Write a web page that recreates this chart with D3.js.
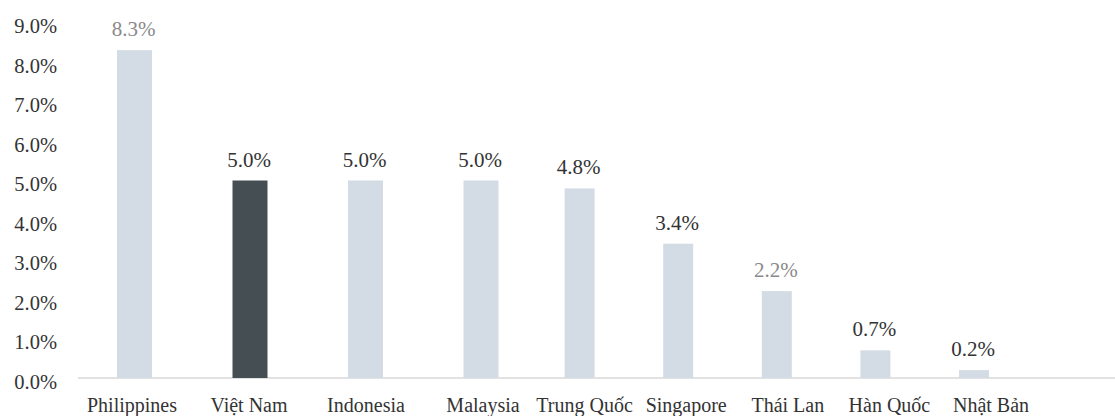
<!DOCTYPE html>
<html>
<head>
<meta charset="utf-8">
<script src="https://cdn.jsdelivr.net/npm/d3@7"></script>
<style>
  html, body { margin: 0; padding: 0; background: #ffffff; }
  svg { display: block; }
</style>
</head>
<body>
<svg id="chart" width="1115" height="416"></svg>
<script>
// ---- data ----
const categories = ["Philippines", "Việt Nam", "Indonesia", "Malaysia", "Trung Quốc", "Singapore", "Thái Lan", "Hàn Quốc", "Nhật Bản"];
const values = [8.3, 5.0, 5.0, 5.0, 4.8, 3.4, 2.2, 0.7, 0.2];
const yTicks = [0, 1, 2, 3, 4, 5, 6, 7, 8, 9];
const highlighted = ["Việt Nam"];
const mutedLabels = ["Philippines", "Thái Lan"];

// ---- layout ----
const W = 1115, H = 416;
const FONT = "Liberation Serif";
const svg = d3.select("#chart");

const y = d3.scaleLinear().domain([0, 9]).range([378, 22.5]);
// bar positions in the source are not evenly spaced: piecewise linear index scale
const idx = categories.map((d, i) => i);
const xBar = d3.scaleLinear().domain([0, 3, 8]).range([134.5, 481, 974]);
const xLab = d3.scaleLinear().domain([0, 3, 8]).range([132, 483, 991]);
const bw = d3.scaleLinear().domain([0, 3, 4, 8]).range([35, 35, 30, 30]);
const fmt = v => d3.format(".1f")(v) + "%";

// y axis (labels only)
const yAxis = d3.axisLeft(y).tickValues(yTicks).tickFormat(fmt).tickSize(0).tickPadding(0);
const gy = svg.append("g").attr("transform", "translate(57,0)").call(yAxis);
gy.attr("font-family", null).attr("font-size", null);
gy.select(".domain").remove();
gy.selectAll("text")
  .style("font-family", FONT)
  .style("font-size", "20.5px")
  .attr("fill", "#333333")
  .attr("dy", "0.5em");

// baseline
svg.append("line")
  .attr("x1", 78).attr("x2", W)
  .attr("y1", y(0)).attr("y2", y(0))
  .attr("stroke", "#d9d9d9").attr("stroke-width", 1.5);

// bars
svg.append("g").selectAll("rect")
  .data(idx)
  .join("rect")
  .attr("x", i => xBar(i) - bw(i) / 2)
  .attr("width", i => bw(i))
  .attr("y", i => y(values[i]))
  .attr("height", i => y(0) - y(values[i]))
  .attr("fill", i => highlighted.includes(categories[i]) ? "#454e53" : "#d3dce5");

// value labels
svg.append("g").selectAll("text")
  .data(idx)
  .join("text")
  .attr("x", i => xBar(i) - 1)
  .attr("y", i => y(values[i]) - 14)
  .attr("text-anchor", "middle")
  .style("font-family", FONT)
  .style("font-size", "21px")
  .attr("fill", i => mutedLabels.includes(categories[i]) ? "#8a8a8a" : "#333333")
  .text(i => fmt(values[i]));

// category labels
svg.append("g").selectAll("text")
  .data(idx)
  .join("text")
  .attr("x", i => xLab(i))
  .attr("y", 412)
  .attr("text-anchor", "middle")
  .style("font-family", FONT)
  .style("font-size", "20px")
  .attr("fill", "#333333")
  .text(i => categories[i]);
</script>
</body>
</html>
